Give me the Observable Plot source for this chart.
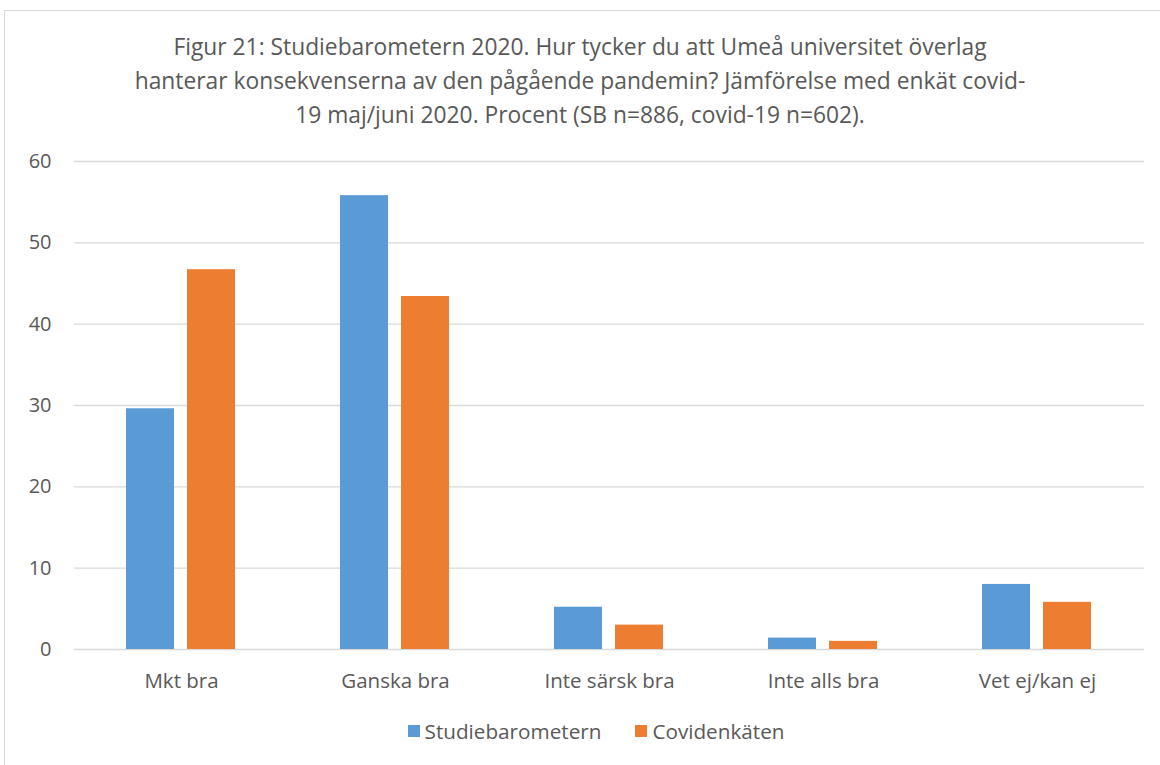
<!DOCTYPE html>
<html>
<head>
<meta charset="utf-8">
<script src="https://cdn.jsdelivr.net/npm/d3@7"></script>
<script src="https://cdn.jsdelivr.net/npm/@observablehq/plot@0.6"></script>
<style>
  html, body { margin: 0; padding: 0; background: #fff; }
  body { width: 1160px; height: 765px; overflow: hidden; position: relative; font-family: "Open Sans", sans-serif; color: #595959; }
  #frame { position: absolute; left: 4px; top: 10px; width: 1170px; height: 780px; border: 1px solid #d9d9d9; box-sizing: border-box; }
  #title { position: absolute; left: 0; top: 30px; width: 1160px; text-align: center; font-size: 22.8px; line-height: 34px; color: #595959; }
  #chart { position: absolute; left: 0; top: 140px; }
  #legend { position: absolute; left: 16px; top: 717px; width: 1160px; display: flex; justify-content: center; gap: 34px; font-size: 20.7px; color: #595959; }
  .item { display: flex; align-items: center; gap: 5px; }
  .sw { width: 12px; height: 12px; display: inline-block; }
</style>
</head>
<body>
<div id="frame"></div>
<div id="title">Figur 21: Studiebarometern 2020. Hur tycker du att Umeå universitet överlag<br>hanterar konsekvenserna av den pågående pandemin? Jämförelse med enkät covid-<br>19 maj/juni 2020. Procent (SB n=886, covid-19 n=602).</div>
<div id="chart"></div>
<div id="legend"></div>
<script>
const categories = ["Mkt bra", "Ganska bra", "Inte särsk bra", "Inte alls bra", "Vet ej/kan ej"];
const series = ["Studiebarometern", "Covidenkäten"];
const studieValues = [29.6, 55.8, 5.2, 1.4, 8.0];
const covidValues = [46.7, 43.4, 3.0, 1.0, 5.8];
const yTicks = [0, 10, 20, 30, 40, 50, 60];
const colors = ["#5b9bd5", "#ed7d31"];

const data = categories.flatMap((c, i) => [
  {cat: c, series: series[0], value: studieValues[i]},
  {cat: c, series: series[1], value: covidValues[i]}
]);

const chart = Plot.plot({
  width: 1160,
  height: 559,
  marginTop: 21,
  marginBottom: 50,
  marginLeft: 73,
  marginRight: 16,
  style: {fontFamily: "'Open Sans', sans-serif", fontSize: "20px", color: "#595959", background: "transparent", overflow: "visible"},
  fx: {domain: categories, padding: 0, label: null, axis: null},
  x: {domain: series, paddingInner: 0.213, paddingOuter: 0.859, axis: null},
  y: {domain: [0, 60], axis: null},
  color: {domain: series, range: colors},
  marks: [
    Plot.gridY(yTicks, {stroke: "#d9d9d9", strokeOpacity: 1, strokeWidth: 1.3}),
    Plot.axisY(yTicks, {tickSize: 0, tickPadding: 23, label: null, fontSize: 20, fill: "#595959"}),
    Plot.axisFx({anchor: "bottom", tickSize: 0, tickPadding: 24, label: null, fontSize: 20.5, fill: "#595959"}),
    Plot.barY(data, {fx: "cat", x: "series", y: "value", fill: "series"})
  ]
});
document.getElementById("chart").appendChild(chart);

const legend = document.getElementById("legend");
series.forEach((s, i) => {
  const item = document.createElement("div");
  item.className = "item";
  const sw = document.createElement("span");
  sw.className = "sw";
  sw.style.background = colors[i];
  const t = document.createElement("span");
  t.textContent = s;
  item.appendChild(sw);
  item.appendChild(t);
  legend.appendChild(item);
});
</script>
</body>
</html>
